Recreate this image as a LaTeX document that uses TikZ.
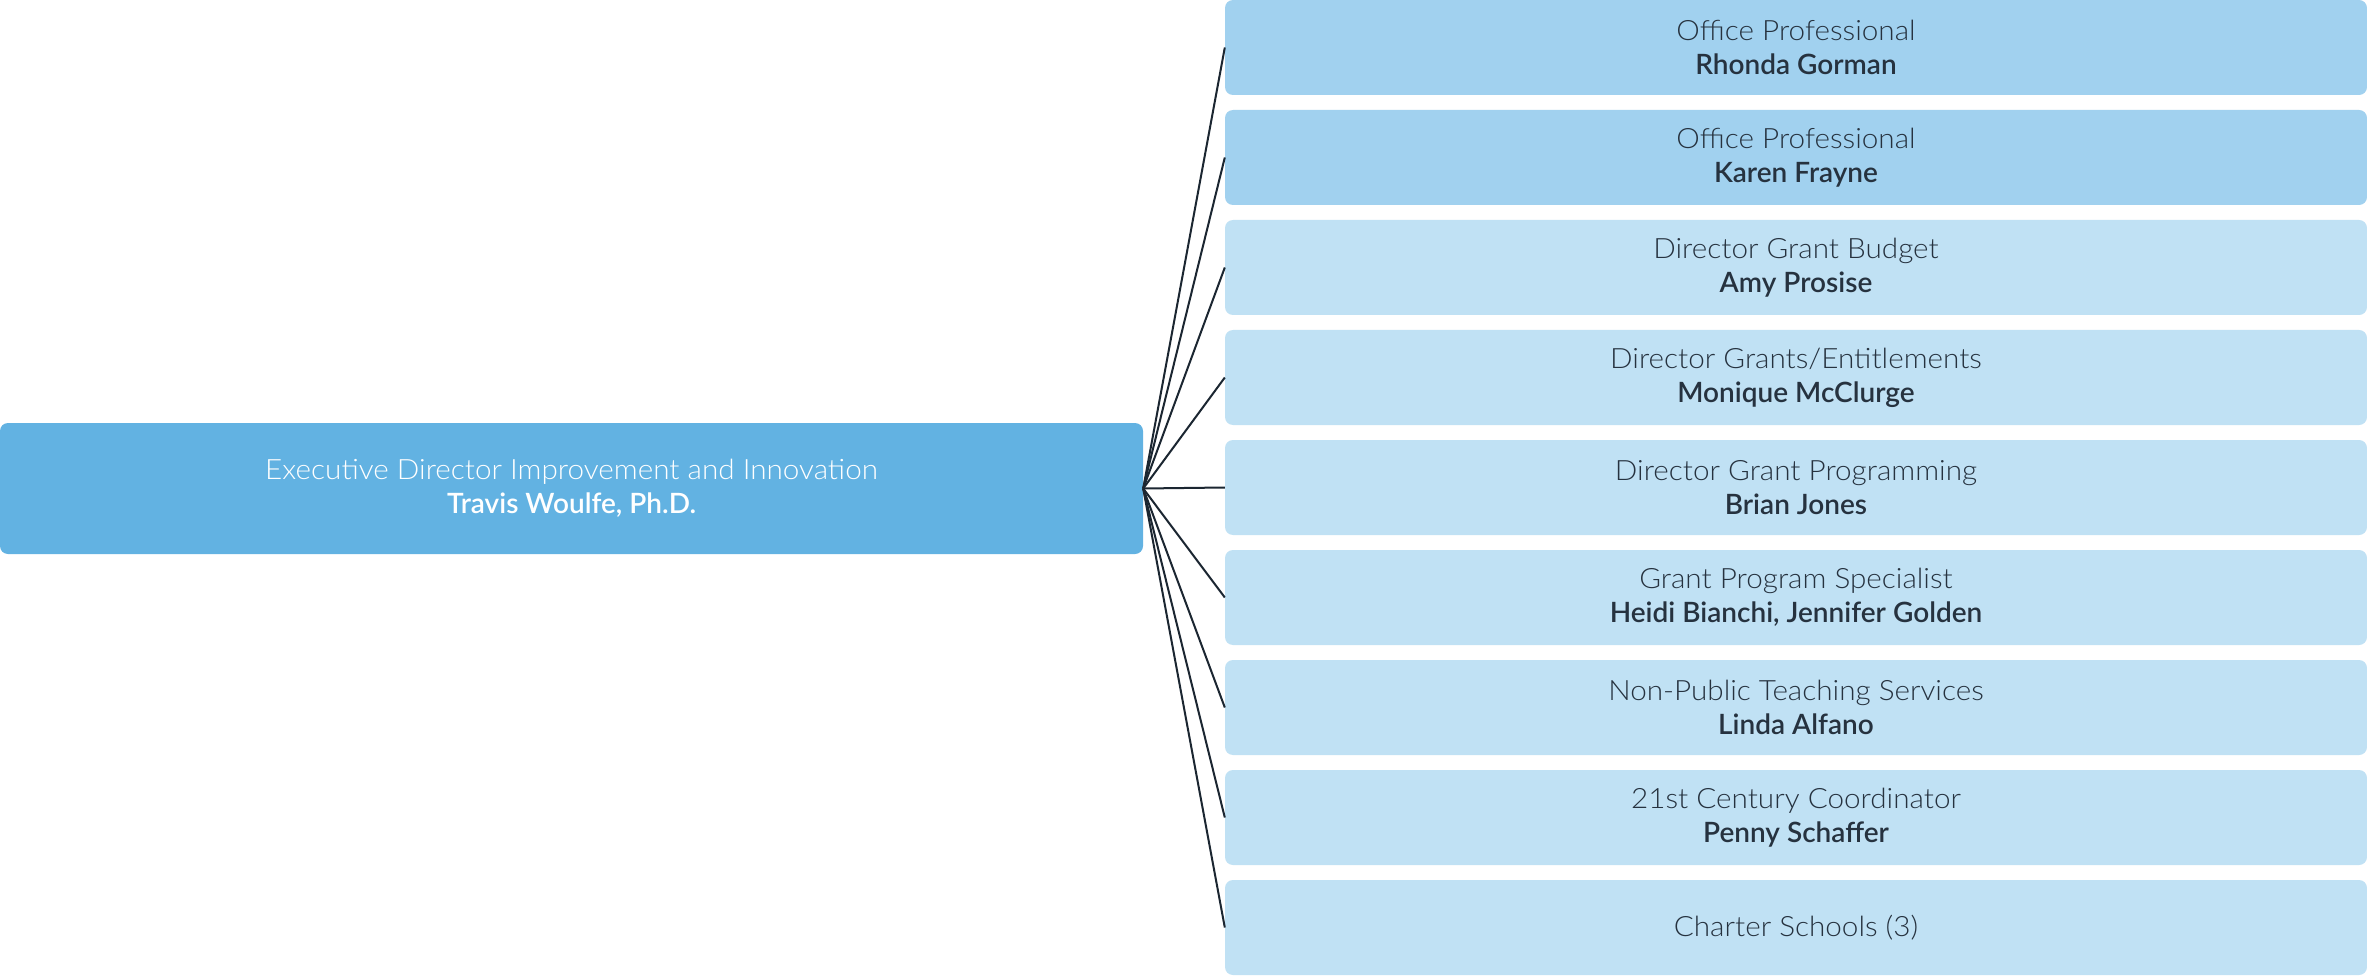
\documentclass[tikz,border=0pt]{standalone}
\usepackage{fontspec}
\setmainfont{Lato}[UprightFont=* Light, UprightFeatures={FakeStretch=1.06}, BoldFont=* Semibold]
\definecolor{mainfill}{HTML}{62B2E2}
\definecolor{topfill}{HTML}{A1D1EF}
\definecolor{subfill}{HTML}{C0E1F4}
\definecolor{darktext}{HTML}{26323F}
\definecolor{linecol}{HTML}{1B2631}
\tikzset{
  box/.style={rectangle, rounded corners=8pt, draw=none, inner sep=0pt, align=center,
    minimum width=1142pt, minimum height=95pt, text=darktext,
    font=\fontsize{28pt}{34pt}\selectfont},
  mainbox/.style={box, fill=mainfill, text=white, minimum width=1143pt, minimum height=131pt},
  topbox/.style={box, fill=topfill},
  subbox/.style={box, fill=subfill},
  link/.style={draw=linecol, line width=2pt}
}
\begin{document}
\begin{tikzpicture}[x=1pt,y=-1pt]
\useasboundingbox (0,0) rectangle (2367,976);
\fill[white] (0,0) rectangle (2367,976);
\node[mainbox] (m) at (571.5,488.5) {Executive Director Improvement and Innovation\\\textbf{Travis Woulfe, Ph.D.}};
\node[topbox] (b1) at (1796,47.5) {Office Professional\\\textbf{Rhonda Gorman}};
\node[topbox] (b2) at (1796,157.5) {Office Professional\\\textbf{Karen Frayne}};
\node[subbox] (b3) at (1796,267.5) {Director Grant Budget\\\textbf{Amy Prosise}};
\node[subbox] (b4) at (1796,377.5) {Director Grants/Entitlements\\\textbf{Monique McClurge}};
\node[subbox] (b5) at (1796,487.5) {Director Grant Programming\\\textbf{Brian Jones}};
\node[subbox] (b6) at (1796,597.5) {Grant Program Specialist\\\textbf{Heidi Bianchi, Jennifer Golden}};
\node[subbox] (b7) at (1796,707.5) {Non-Public Teaching Services\\\textbf{Linda Alfano}};
\node[subbox] (b8) at (1796,817.5) {21st Century Coordinator\\\textbf{Penny Schaffer}};
\node[subbox] (b9) at (1796,927.5) {Charter Schools (3)};
\foreach \i in {1,...,9} {\draw[link] (m.east) -- (b\i.west);}
\end{tikzpicture}
\end{document}
